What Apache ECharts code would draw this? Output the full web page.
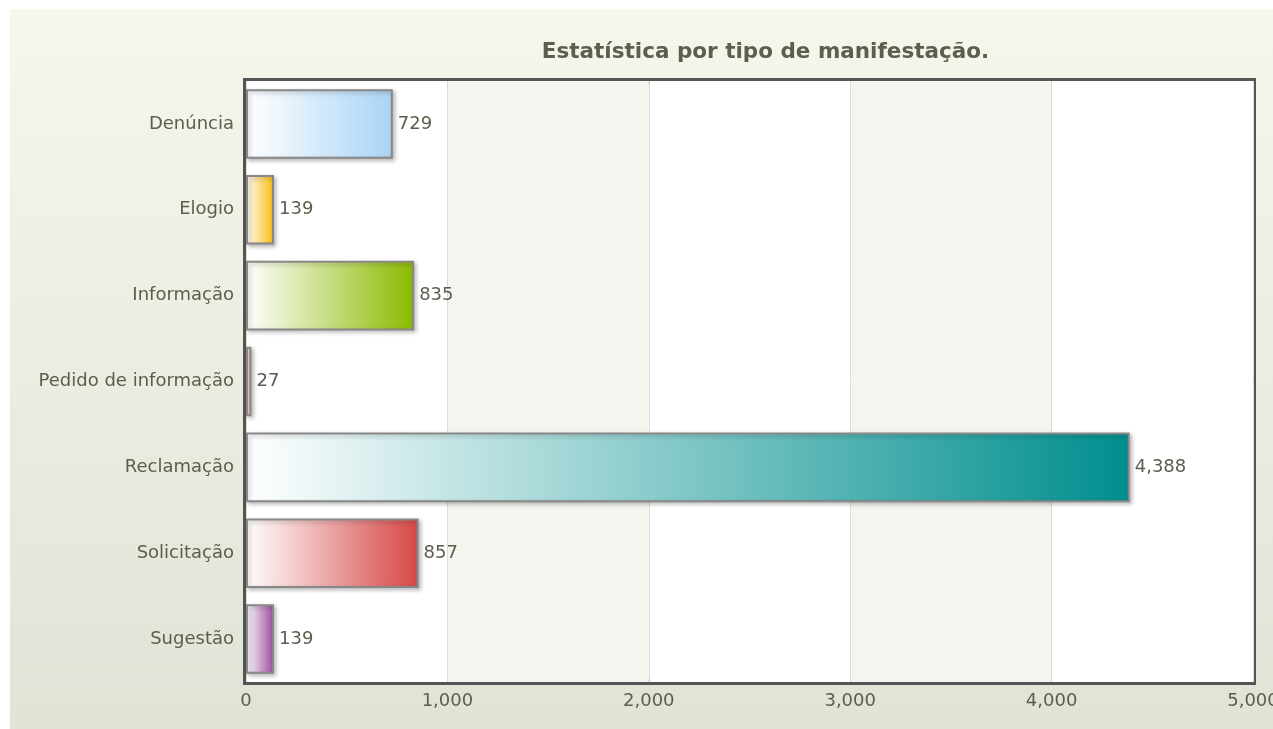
<!DOCTYPE html>
<html>
<head>
<meta charset="utf-8">
<script src="https://cdn.jsdelivr.net/npm/echarts@6/dist/echarts.min.js"></script>
<style>
  html, body { margin: 0; padding: 0; background: #fff; overflow: hidden; }
  #chart { position: absolute; left: 10px; top: 9px; width: 1263px; height: 720px; }
</style>
</head>
<body>
<div id="chart"></div>
<script>
var categories = ["Denúncia", "Elogio", "Informação", "Pedido de informação", "Reclamação", "Solicitação", "Sugestão"];
var values = [729, 139, 835, 27, 4388, 857, 139];
var barColors = ["#a9d4f6", "#f6bd0f", "#8bba00", "#f2a47e", "#008e8e", "#d64646", "#9d4d9c"];
var xTicks = { min: 0, max: 5000, interval: 1000 };
var title = "Estatística por tipo de manifestação.";

var chart = echarts.init(document.getElementById("chart"));
var textColor = "#5b5e4c";
var font = "'DejaVu Sans', Verdana, sans-serif";

var seriesData = values.map(function (v, i) {
  return {
    value: v,
    itemStyle: {
      color: {
        type: "linear", x: 0, y: 0, x2: 1, y2: 0,
        colorStops: [
          { offset: 0, color: "#ffffff" },
          { offset: 1, color: barColors[i] }
        ]
      }
    }
  };
});

var option = {
  backgroundColor: {
    type: "linear", x: 0, y: 0, x2: 0, y2: 1,
    colorStops: [
      { offset: 0, color: "#f6f7ec" },
      { offset: 1, color: "#e2e3d7" }
    ]
  },
  textStyle: { fontFamily: font },
  graphic: [
    {
      type: "text",
      x: 755.5,
      y: 43.5,
      style: {
        text: title,
        textAlign: "center",
        textVerticalAlign: "middle",
        font: "bold 21.5px " + font,
        fill: "#5b604c"
      }
    }
  ],
  grid: {
    left: 236,
    right: 20,
    top: 72,
    bottom: 47,
    outerBoundsMode: "none",
    containLabel: false,
    show: true,
    backgroundColor: "#ffffff",
    borderColor: "#555555",
    borderWidth: 6
  },
  xAxis: {
    type: "value",
    min: xTicks.min,
    max: xTicks.max,
    interval: xTicks.interval,
    axisLine: { show: false },
    axisTick: { show: false },
    axisLabel: {
      color: textColor,
      fontSize: 18,
      fontFamily: font,
      margin: 10,
      formatter: function (v) { return v.toLocaleString("en-US"); }
    },
    splitLine: { show: true, lineStyle: { color: "#dcdcd4", width: 1 } },
    splitArea: { show: true, areaStyle: { color: ["#ffffff", "#f5f5f0"] } }
  },
  yAxis: {
    type: "category",
    data: categories,
    inverse: true,
    axisLine: { show: false },
    axisTick: { show: false },
    axisLabel: { color: textColor, fontSize: 18, fontFamily: font, margin: 12 }
  },
  series: [
    {
      type: "bar",
      data: seriesData,
      barCategoryGap: "19%",
      itemStyle: {
        borderColor: "#888888",
        borderWidth: 2,
        shadowColor: "rgba(0,0,0,0.25)",
        shadowBlur: 4,
        shadowOffsetX: 2,
        shadowOffsetY: 2
      },
      label: {
        show: true,
        position: "right",
        distance: 5,
        color: textColor,
        fontSize: 18,
        fontFamily: font,
        formatter: function (p) { return p.value.toLocaleString("en-US"); }
      }
    }
  ]
};
chart.setOption(option);
</script>
</body>
</html>
